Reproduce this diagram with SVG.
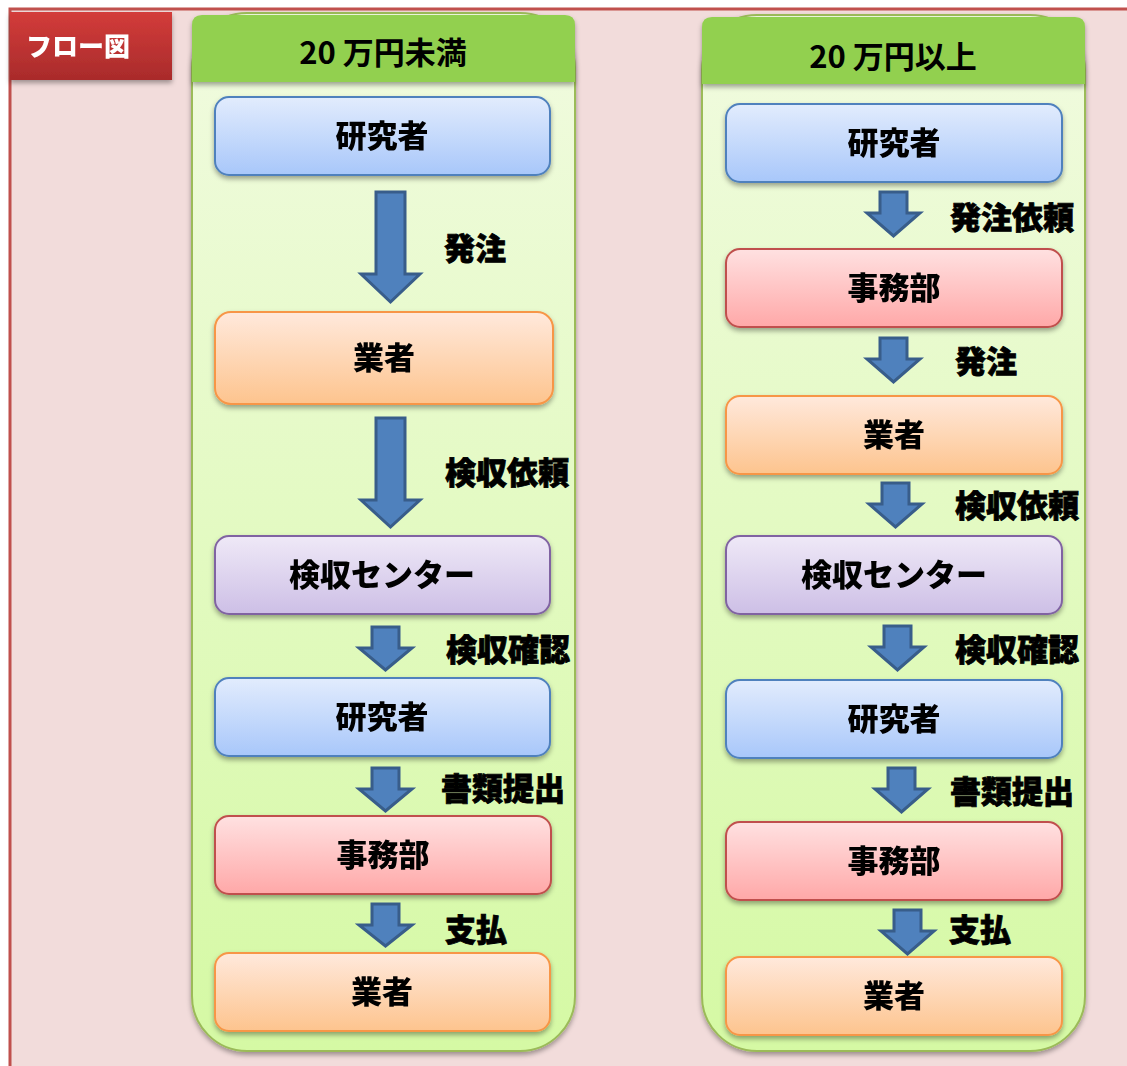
<svg xmlns="http://www.w3.org/2000/svg" width="1127" height="1066" viewBox="0 0 1127 1066">
<defs>
<linearGradient id="gBlue" x1="0" y1="0" x2="0" y2="1"><stop offset="0" stop-color="#e2ecfd"/><stop offset="1" stop-color="#a8c7fa"/></linearGradient>
<linearGradient id="gOrange" x1="0" y1="0" x2="0" y2="1"><stop offset="0" stop-color="#ffe9dc"/><stop offset="1" stop-color="#fdc48e"/></linearGradient>
<linearGradient id="gPurple" x1="0" y1="0" x2="0" y2="1"><stop offset="0" stop-color="#efe9f7"/><stop offset="1" stop-color="#cdbfe6"/></linearGradient>
<linearGradient id="gRed" x1="0" y1="0" x2="0" y2="1"><stop offset="0" stop-color="#ffe1e1"/><stop offset="1" stop-color="#ffa8a8"/></linearGradient>
<linearGradient id="gBody" x1="0" y1="0" x2="0" y2="1"><stop offset="0" stop-color="#f1fbe0"/><stop offset="1" stop-color="#d5f9a4"/></linearGradient>
<linearGradient id="gTitle" x1="0" y1="0" x2="0" y2="1"><stop offset="0" stop-color="#d33c3a"/><stop offset="1" stop-color="#a92b2b"/></linearGradient>
<filter id="sh" x="-10%" y="-10%" width="120%" height="130%"><feDropShadow dx="0" dy="3" stdDeviation="2.5" flood-color="#000" flood-opacity="0.35"/></filter>
</defs>
<style>
.node{stroke-width:2}
.blue{fill:url(#gBlue);stroke:#4f81bd}
.orange{fill:url(#gOrange);stroke:#f79646}
.purple{fill:url(#gPurple);stroke:#8064a2}
.red{fill:url(#gRed);stroke:#c0504d}
.t{font-family:"Noto Sans CJK JP","Noto Sans",sans-serif;font-weight:900;font-size:31px;fill:#000;text-anchor:middle;dominant-baseline:central}
.lbl{font-family:"Noto Sans CJK JP","Noto Sans",sans-serif;font-weight:900;font-size:31px;fill:#000;stroke:#000;stroke-width:0.8;text-anchor:middle;dominant-baseline:central}
.arr{fill:#4f81bd;stroke:#385d8a;stroke-width:3}
.col{fill:url(#gBody);stroke:#9bbb59;stroke-width:2}
.hdr{fill:#92d050}
</style>
<rect x="0" y="0" width="1127" height="1066" fill="#fff"/>
<rect x="10" y="9" width="1130" height="1070" fill="#f2dcdb" stroke="#c0504d" stroke-width="3"/>
<g id="title" filter="url(#sh)">
<rect x="10" y="12" width="162" height="68" fill="url(#gTitle)"/>
<text x="78" y="44" class="t" style="fill:#fff;font-size:26px">フロー図</text>
</g>
<g id="col-left">
<rect x="192" y="13" width="383" height="1038" rx="55" class="col" filter="url(#sh)"/>
<path d="M192,82 V25 Q192,15 202,15 H565 Q575,15 575,25 V82 Z" class="hdr" filter="url(#sh)"/>
<text x="383" y="50" class="t" style="font-weight:bold">20 万円未満</text>
</g>
<g id="col-right">
<rect x="702" y="15" width="383" height="1036" rx="55" class="col" filter="url(#sh)"/>
<path d="M702,84 V27 Q702,17 712,17 H1075 Q1085,17 1085,27 V84 Z" class="hdr" filter="url(#sh)"/>
<text x="893" y="54" class="t" style="font-weight:bold">20 万円以上</text>
</g>
<g id="connectors">
<path class="arr" d="M376,192 H405 V274 H420 L390.5,302 L361,274 H376 Z"/>
<path class="arr" d="M376,418 H405 V500 H420 L390.5,527 L361,500 H376 Z"/>
<path class="arr" d="M372,627 H399 V648 H412 L385.5,670 L359,648 H372 Z"/>
<path class="arr" d="M372,768 H399 V789 H412 L385.5,811 L359,789 H372 Z"/>
<path class="arr" d="M372,904 H399 V925 H412 L385.5,946 L359,925 H372 Z"/>
<path class="arr" d="M880,192 H907 V213 H920 L893.5,236 L867,213 H880 Z"/>
<path class="arr" d="M880,338 H907 V359 H920 L893.5,382 L867,359 H880 Z"/>
<path class="arr" d="M882,483 H909 V504 H922 L895.5,527 L869,504 H882 Z"/>
<path class="arr" d="M884,626 H911 V647 H924 L897.5,670 L871,647 H884 Z"/>
<path class="arr" d="M888,768 H915 V789 H928 L901.5,812 L875,789 H888 Z"/>
<path class="arr" d="M894,910 H921 V931 H934 L907.5,954 L881,931 H894 Z"/>
<text class="lbl" x="475" y="246">発注</text>
<text class="lbl" x="507" y="470">検収依頼</text>
<text class="lbl" x="508" y="647">検収確認</text>
<text class="lbl" x="503" y="786">書類提出</text>
<text class="lbl" x="476" y="927">支払</text>
<text class="lbl" x="1012" y="215">発注依頼</text>
<text class="lbl" x="986" y="359">発注</text>
<text class="lbl" x="1017" y="503">検収依頼</text>
<text class="lbl" x="1017" y="647">検収確認</text>
<text class="lbl" x="1012" y="789">書類提出</text>
<text class="lbl" x="980" y="927">支払</text>
</g>
<g id="L1" filter="url(#sh)"><rect x="215" y="97" width="335" height="78" rx="14" class="node blue"/><text x="382" y="133" class="t">研究者</text></g>
<g id="L2" filter="url(#sh)"><rect x="215" y="312" width="338" height="92" rx="16" class="node orange"/><text x="384" y="355" class="t">業者</text></g>
<g id="L3" filter="url(#sh)"><rect x="215" y="536" width="335" height="78" rx="14" class="node purple"/><text x="382" y="572" class="t">検収センター</text></g>
<g id="L4" filter="url(#sh)"><rect x="215" y="678" width="335" height="78" rx="14" class="node blue"/><text x="382" y="714" class="t">研究者</text></g>
<g id="L5" filter="url(#sh)"><rect x="215" y="816" width="336" height="78" rx="14" class="node red"/><text x="383" y="852" class="t">事務部</text></g>
<g id="L6" filter="url(#sh)"><rect x="215" y="953" width="335" height="78" rx="14" class="node orange"/><text x="382" y="989" class="t">業者</text></g>
<g id="R1" filter="url(#sh)"><rect x="726" y="104" width="336" height="78" rx="14" class="node blue"/><text x="894" y="140" class="t">研究者</text></g>
<g id="R2" filter="url(#sh)"><rect x="726" y="249" width="336" height="78" rx="14" class="node red"/><text x="894" y="285" class="t">事務部</text></g>
<g id="R3" filter="url(#sh)"><rect x="726" y="396" width="336" height="78" rx="14" class="node orange"/><text x="894" y="432" class="t">業者</text></g>
<g id="R4" filter="url(#sh)"><rect x="726" y="536" width="336" height="78" rx="14" class="node purple"/><text x="894" y="572" class="t">検収センター</text></g>
<g id="R5" filter="url(#sh)"><rect x="726" y="680" width="336" height="78" rx="14" class="node blue"/><text x="894" y="716" class="t">研究者</text></g>
<g id="R6" filter="url(#sh)"><rect x="726" y="822" width="336" height="78" rx="14" class="node red"/><text x="894" y="858" class="t">事務部</text></g>
<g id="R7" filter="url(#sh)"><rect x="726" y="957" width="336" height="78" rx="14" class="node orange"/><text x="894" y="993" class="t">業者</text></g>
</svg>
